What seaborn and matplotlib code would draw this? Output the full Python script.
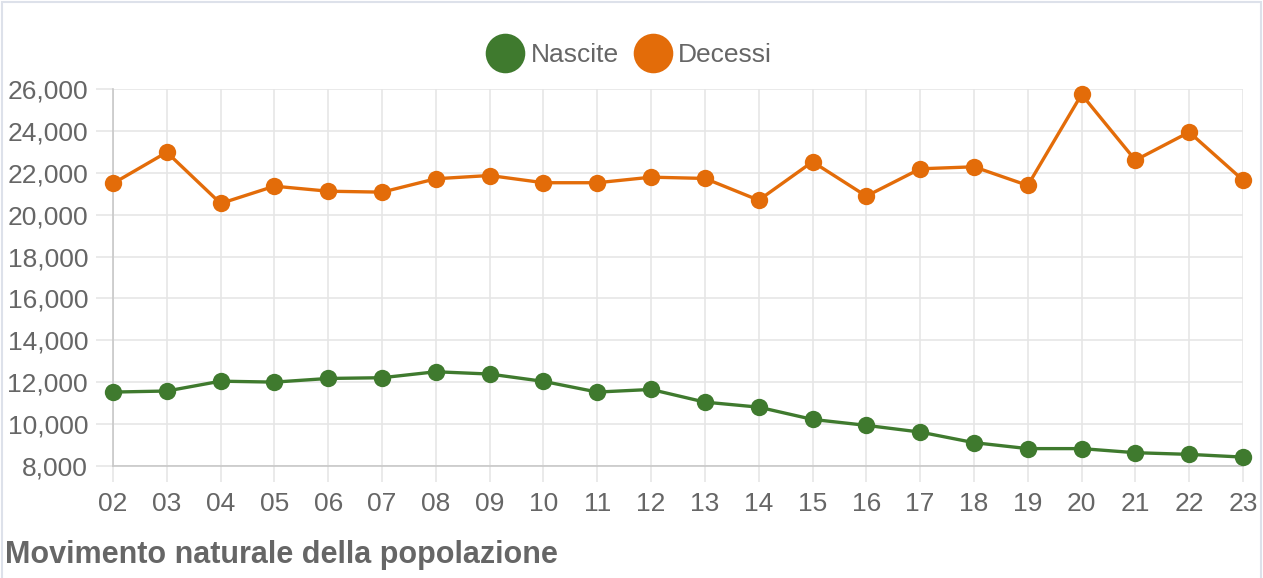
import matplotlib
matplotlib.use("Agg")
import matplotlib.pyplot as plt
import seaborn as sns
import pandas as pd
from matplotlib.lines import Line2D
from matplotlib.patches import Rectangle
from matplotlib.ticker import FuncFormatter

years = ["02", "03", "04", "05", "06", "07", "08", "09", "10", "11", "12",
         "13", "14", "15", "16", "17", "18", "19", "20", "21", "22", "23"]
nascite = [11530, 11580, 12050, 12005, 12180, 12215, 12500, 12390, 12040, 11530, 11655,
           11050, 10810, 10225, 9940, 9620, 9115, 8830, 8830, 8635, 8555, 8425]
decessi = [21490, 22980, 20535, 21360, 21120, 21075, 21715, 21870, 21525, 21525, 21790,
           21730, 20690, 22525, 20885, 22190, 22285, 21395, 25740, 22600, 23940, 21650]
series_names = ["Nascite", "Decessi"]
colors = ["#3f7a2e", "#e36c09"]
title = "Movimento naturale della popolazione"

sns.set_theme(style="white")
plt.rcParams['font.family'] = ['Liberation Sans', 'DejaVu Sans']

df = pd.DataFrame({
    "x": list(range(len(years))) * 2,
    "value": nascite + decessi,
    "serie": [series_names[0]] * len(years) + [series_names[1]] * len(years),
})

fig = plt.figure(figsize=(12.63, 5.78), dpi=100)
ax = fig.add_axes([113 / 1263, 1 - 466 / 578, (1243 - 113) / 1263, (466 - 89) / 578])

sns.lineplot(data=df, x="x", y="value", hue="serie", palette=colors,
             hue_order=series_names, marker="o", markersize=12.5, markeredgewidth=0,
             linewidth=2.4, ax=ax, legend=False, clip_on=False, zorder=3)

ax.set_xlim(0, len(years) - 1)
ax.set_ylim(8000, 26000)
ax.set_xticks(range(len(years)))
ax.set_xticklabels(years)
ax.set_yticks(range(8000, 26001, 2000))
ax.yaxis.set_major_formatter(FuncFormatter(lambda v, p: f"{int(v):,}"))
ax.grid(True, color="#e6e6e6", linewidth=1.2, zorder=0)
ax.set_axisbelow(True)
ax.set_xlabel("")
ax.set_ylabel("")
for s in ["top", "right"]:
    ax.spines[s].set_visible(False)
for s in ["left", "bottom"]:
    ax.spines[s].set_color("#c8c8c8")
    ax.spines[s].set_linewidth(1.2)
ax.tick_params(axis="y", length=12.5, width=1.2, color="#e6e6e6", pad=5.5,
               labelsize=19, labelcolor="#666666", left=True)
ax.tick_params(axis="x", length=11.5, width=1.2, color="#e6e6e6", pad=7,
               labelsize=19, labelcolor="#666666", bottom=True)

handles = [Line2D([], [], linestyle="none", marker="o", markersize=28.5,
                  markerfacecolor=c, markeredgewidth=0) for c in colors]
fig.legend(handles, series_names, loc="center", bbox_to_anchor=(629 / 1263, 1 - 55 / 578),
           ncol=2, frameon=False, fontsize=19, labelcolor="#666666",
           handlelength=1.45, handletextpad=0.25, columnspacing=0.55)

fig.text(5 / 1263, 1 - 555 / 578, title, fontsize=22, fontweight="bold",
         color="#666666", ha="left", va="center")

fig.patches.append(Rectangle((2 / 1263, -0.01), 1259 / 1263, 1.0 - 1.5 / 578 + 0.01,
                             transform=fig.transFigure,
                             fill=False, edgecolor="#dde1ea", linewidth=1.5))

fig.savefig("out.png", dpi=100)
